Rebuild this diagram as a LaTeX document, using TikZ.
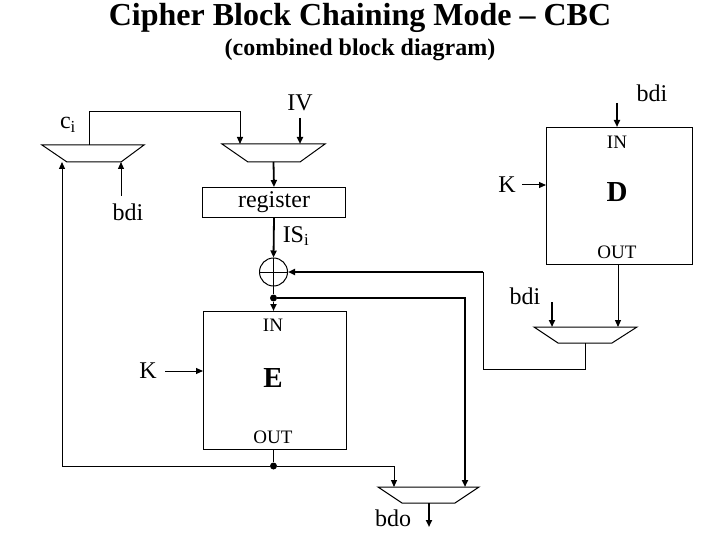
\documentclass[tikz,border=0pt]{standalone}
\usepackage{fontspec}
\setmainfont{Liberation Serif}
\usetikzlibrary{arrows.meta}
\begin{document}
\begin{tikzpicture}[x=1pt,y=-1pt,
  thin/.style={line width=1pt},
  thick/.style={line width=1.8pt},
  arr/.style={-{Triangle[length=7pt,width=6pt]}},
  box/.style={draw,line width=1pt,inner sep=0pt},
  lbl/.style={font=\fontsize{24}{24}\selectfont},
  io/.style={font=\fontsize{19}{19}\selectfont},
  big/.style={font=\fontsize{29}{29}\selectfont\bfseries},
  dot/.style={circle,fill,inner sep=0pt,minimum size=7pt}]
\useasboundingbox (0,0) rectangle (720,540);
\node[font=\fontsize{32}{32}\selectfont\bfseries] (title) at (360,18) {Cipher Block Chaining Mode -- CBC};
\node[font=\fontsize{24}{24}\selectfont\bfseries] (sub) at (360,50) {(combined block diagram)};
% muxes
\draw[thin] (42,145) -- (144,145) -- (121,162) -- (67,162) -- cycle;
\draw[thin] (222,144) -- (325,144) -- (300,162) -- (248,162) -- cycle;
\draw[thin] (534,327) -- (637,327) -- (612,343) -- (558,343) -- cycle;
\draw[thin] (378,487) -- (479,487) -- (455,503) -- (402,503) -- cycle;
% boxes
\node[box,minimum width=143pt,minimum height=30pt,anchor=north west,font=\fontsize{24}{24}\selectfont] (reg) at (202,187) {register};
\node[box,minimum width=146pt,minimum height=137pt,anchor=north west] (D) at (546,127) {};
\node[box,minimum width=143pt,minimum height=138pt,anchor=north west] (E) at (203,311) {};
\node[io] (Din) at (617,142) {IN};
\node[big] (Dl) at (617,192) {D};
\node[io] (Dout) at (617,252) {OUT};
\node[io] (Ein) at (273,325) {IN};
\node[big] (El) at (273,378) {E};
\node[io] (Eout) at (273,437) {OUT};
% labels
\node[lbl] (ci) at (68,125) {c\textsubscript{i}};
\node[lbl] (iv) at (300,103) {IV};
\node[lbl] (bdi1) at (128,212) {bdi};
\node[lbl] (isi) at (296,236) {IS\textsubscript{i}};
\node[lbl] (bdi2) at (652,93) {bdi};
\node[lbl] (K1) at (507,185) {K};
\node[lbl] (bdi3) at (525,296) {bdi};
\node[lbl] (K2) at (148,371) {K};
\node[lbl] (bdo) at (393,518) {bdo};
% xor
\node[circle,draw,thin,minimum size=28pt,inner sep=0pt] (x) at (273.5,272) {};
\draw[thin] (x.north) -- (x.south) (x.west) -- (x.east);
\node[dot] (d1) at (273.5,298) {};
\node[dot] (d2) at (273.5,466) {};
% connectors
\draw[thin,arr] (89,145) -- (89,112) -- (240,112) -- (240,144);
\draw[thick,arr] (300,118) -- (300,144);
\draw[thick,arr] (273.5,162) -- (reg.north);
\draw[thick,arr] (reg.south) -- (x.north);
\draw[thin,arr] (121,196) -- (121,162);
\draw[thick,arr] (617,103) -- (617,127);
\draw[thin,arr] (522,185) -- (546,185);
\draw[thin,arr] (618,264) -- (618,327);
\draw[thick,arr] (552,302) -- (552,327);
\draw[thin] (585,343) -- (585,369) -- (483,369) -- (483,272);
\draw[thick,arr] (483,272) -- (x.east);
\draw[thick] (x.south) -- (d1);
\draw[thick,arr] (d1) -- (273.5,311);
\draw[thick,arr] (d1) -- (465,298) -- (465,487);
\draw[thin,arr] (165,371) -- (203,371);
\draw[thin] (273.5,449) -- (d2);
\draw[thin,arr] (d2) -- (394,466) -- (394,487);
\draw[thin,arr] (d2) -- (62,466) -- (62,162);
\draw[thick,arr] (429,503) -- (429,527);
\end{tikzpicture}
\end{document}
